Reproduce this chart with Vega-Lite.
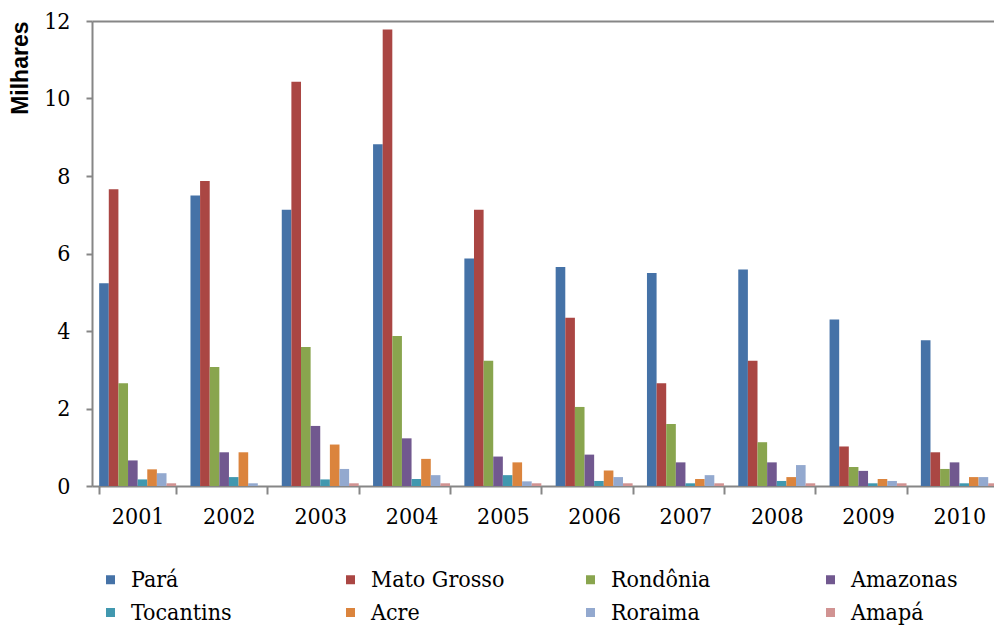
{
  "$schema": "https://vega.github.io/schema/vega-lite/v6.json",
  "autosize": {"type": "none"},
  "padding": {"left": 92, "top": 21, "right": 0, "bottom": 141},
  "width": 902,
  "height": 465,
  "config": {"view": {"stroke": null}, "background": "white"},
  "data": {"values": [
    {"year": "2001", "state": "Pará", "value": 5.23},
    {"year": "2001", "state": "Mato Grosso", "value": 7.66},
    {"year": "2001", "state": "Rondônia", "value": 2.65},
    {"year": "2001", "state": "Amazonas", "value": 0.66},
    {"year": "2001", "state": "Tocantins", "value": 0.17},
    {"year": "2001", "state": "Acre", "value": 0.43},
    {"year": "2001", "state": "Roraima", "value": 0.33},
    {"year": "2001", "state": "Amapá", "value": 0.07},
    {"year": "2002", "state": "Pará", "value": 7.5},
    {"year": "2002", "state": "Mato Grosso", "value": 7.87},
    {"year": "2002", "state": "Rondônia", "value": 3.07},
    {"year": "2002", "state": "Amazonas", "value": 0.87},
    {"year": "2002", "state": "Tocantins", "value": 0.23},
    {"year": "2002", "state": "Acre", "value": 0.87},
    {"year": "2002", "state": "Roraima", "value": 0.07},
    {"year": "2002", "state": "Amapá", "value": 0},
    {"year": "2003", "state": "Pará", "value": 7.13},
    {"year": "2003", "state": "Mato Grosso", "value": 10.43},
    {"year": "2003", "state": "Rondônia", "value": 3.59},
    {"year": "2003", "state": "Amazonas", "value": 1.55},
    {"year": "2003", "state": "Tocantins", "value": 0.17},
    {"year": "2003", "state": "Acre", "value": 1.07},
    {"year": "2003", "state": "Roraima", "value": 0.44},
    {"year": "2003", "state": "Amapá", "value": 0.07},
    {"year": "2004", "state": "Pará", "value": 8.82},
    {"year": "2004", "state": "Mato Grosso", "value": 11.78},
    {"year": "2004", "state": "Rondônia", "value": 3.87},
    {"year": "2004", "state": "Amazonas", "value": 1.23},
    {"year": "2004", "state": "Tocantins", "value": 0.18},
    {"year": "2004", "state": "Acre", "value": 0.7},
    {"year": "2004", "state": "Roraima", "value": 0.28},
    {"year": "2004", "state": "Amapá", "value": 0.07},
    {"year": "2005", "state": "Pará", "value": 5.87},
    {"year": "2005", "state": "Mato Grosso", "value": 7.13},
    {"year": "2005", "state": "Rondônia", "value": 3.23},
    {"year": "2005", "state": "Amazonas", "value": 0.76},
    {"year": "2005", "state": "Tocantins", "value": 0.28},
    {"year": "2005", "state": "Acre", "value": 0.61},
    {"year": "2005", "state": "Roraima", "value": 0.12},
    {"year": "2005", "state": "Amapá", "value": 0.07},
    {"year": "2006", "state": "Pará", "value": 5.65},
    {"year": "2006", "state": "Mato Grosso", "value": 4.34},
    {"year": "2006", "state": "Rondônia", "value": 2.04},
    {"year": "2006", "state": "Amazonas", "value": 0.81},
    {"year": "2006", "state": "Tocantins", "value": 0.13},
    {"year": "2006", "state": "Acre", "value": 0.4},
    {"year": "2006", "state": "Roraima", "value": 0.23},
    {"year": "2006", "state": "Amapá", "value": 0.07},
    {"year": "2007", "state": "Pará", "value": 5.5},
    {"year": "2007", "state": "Mato Grosso", "value": 2.65},
    {"year": "2007", "state": "Rondônia", "value": 1.6},
    {"year": "2007", "state": "Amazonas", "value": 0.61},
    {"year": "2007", "state": "Tocantins", "value": 0.07},
    {"year": "2007", "state": "Acre", "value": 0.18},
    {"year": "2007", "state": "Roraima", "value": 0.28},
    {"year": "2007", "state": "Amapá", "value": 0.07},
    {"year": "2008", "state": "Pará", "value": 5.59},
    {"year": "2008", "state": "Mato Grosso", "value": 3.23},
    {"year": "2008", "state": "Rondônia", "value": 1.13},
    {"year": "2008", "state": "Amazonas", "value": 0.61},
    {"year": "2008", "state": "Tocantins", "value": 0.13},
    {"year": "2008", "state": "Acre", "value": 0.23},
    {"year": "2008", "state": "Roraima", "value": 0.54},
    {"year": "2008", "state": "Amapá", "value": 0.07},
    {"year": "2009", "state": "Pará", "value": 4.3},
    {"year": "2009", "state": "Mato Grosso", "value": 1.02},
    {"year": "2009", "state": "Rondônia", "value": 0.49},
    {"year": "2009", "state": "Amazonas", "value": 0.39},
    {"year": "2009", "state": "Tocantins", "value": 0.07},
    {"year": "2009", "state": "Acre", "value": 0.18},
    {"year": "2009", "state": "Roraima", "value": 0.13},
    {"year": "2009", "state": "Amapá", "value": 0.07},
    {"year": "2010", "state": "Pará", "value": 3.76},
    {"year": "2010", "state": "Mato Grosso", "value": 0.87},
    {"year": "2010", "state": "Rondônia", "value": 0.44},
    {"year": "2010", "state": "Amazonas", "value": 0.61},
    {"year": "2010", "state": "Tocantins", "value": 0.07},
    {"year": "2010", "state": "Acre", "value": 0.23},
    {"year": "2010", "state": "Roraima", "value": 0.23},
    {"year": "2010", "state": "Amapá", "value": 0.07}
  ]},
  "mark": {"type": "bar", "clip": true},
  "encoding": {
    "x": {
      "field": "year", "type": "nominal",
      "scale": {"range": [0, 913], "paddingInner": 0.157, "paddingOuter": 0.0785},
      "axis": {
        "title": null, "labelAngle": 0, "labelFont": "DejaVu Serif Condensed", "labelFontSize": 23, "labelColor": "black",
        "labelPadding": 11, "domainColor": "#868686", "domainWidth": 2,
        "tickBand": "extent", "tickSize": 8, "tickColor": "#868686", "tickWidth": 2
      }
    },
    "xOffset": {
      "field": "state",
      "sort": ["Pará", "Mato Grosso", "Rondônia", "Amazonas", "Tocantins", "Acre", "Roraima", "Amapá"],
      "scale": {"paddingInner": 0, "paddingOuter": 0}
    },
    "y": {
      "field": "value", "type": "quantitative",
      "scale": {"domain": [0, 12], "nice": false},
      "axis": {
        "values": [0, 2, 4, 6, 8, 10, 12],
        "title": "Milhares", "titleFont": "Liberation Sans", "titleFontWeight": "bold",
        "titleFontSize": 23, "titleAnchor": "end", "titlePadding": 11, "titleColor": "black",
        "labelFont": "DejaVu Serif Condensed", "labelFontSize": 23, "labelColor": "black", "labelPadding": 16,
        "domainColor": "#868686", "domainWidth": 2,
        "tickSize": 6, "tickColor": "#868686", "tickWidth": 2,
        "grid": true, "gridColor": "#868686", "gridWidth": 2,
        "gridOpacity": {"condition": {"test": "datum.value == 12", "value": 1}, "value": 0}
      }
    },
    "color": {
      "field": "state", "type": "nominal",
      "scale": {
        "domain": ["Pará", "Mato Grosso", "Rondônia", "Amazonas", "Tocantins", "Acre", "Roraima", "Amapá"],
        "range": ["#4572A7", "#AA4643", "#89A54E", "#71588F", "#4198AF", "#DB843D", "#93A9CF", "#D19392"]
      },
      "legend": {
        "orient": "none", "legendX": 7, "legendY": 547, "direction": "horizontal",
        "columns": 4, "gridAlign": "all", "columnPadding": 74, "rowPadding": 9,
        "padding": 0, "title": null, "symbolType": "square", "symbolSize": 81,
        "symbolStrokeWidth": 0, "labelFont": "DejaVu Serif Condensed", "labelFontSize": 23,
        "labelColor": "black", "labelOffset": 9
      }
    }
  }
}
